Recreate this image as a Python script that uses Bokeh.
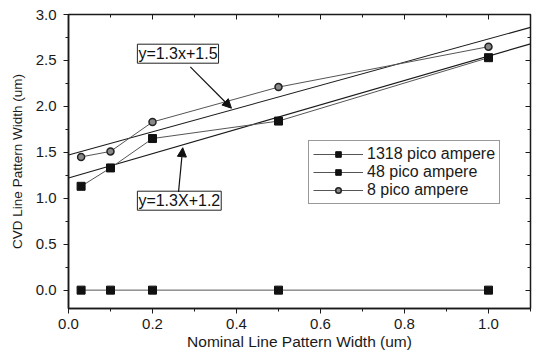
from bokeh.plotting import figure
from bokeh.models import (Range1d, LinearAxis, SingleIntervalTicker, Legend, LegendItem,
                          Label, Arrow, NormalHead, CustomJSTickFormatter, CustomLabelingPolicy)
from bokeh.embed import file_html
from bokeh.resources import INLINE

# ---- data ----
nominal = [0.03, 0.1, 0.2, 0.5, 1.0]
cvd_1318 = [0.0, 0.0, 0.0, 0.0, 0.0]
cvd_48 = [1.13, 1.33, 1.65, 1.84, 2.53]
cvd_8 = [1.45, 1.51, 1.83, 2.21, 2.65]

fit_upper_x = [0.0, 1.1]
fit_upper_y = [1.47, 2.86]
fit_lower_x = [0.0, 1.1]
fit_lower_y = [1.22, 2.68]

label_upper = "y=1.3x+1.5"
label_lower = "y=1.3X+1.2"
series_names = ["1318 pico ampere", "48 pico ampere", "8 pico ampere"]

FONT = "Liberation Sans"
INK = "#1a1a1a"

p = figure(width=539, height=357, output_backend="svg", toolbar_location=None,
           x_range=Range1d(0, 1.1), y_range=Range1d(-0.2, 3.0),
           min_border_left=68, min_border_right=9, min_border_top=14, min_border_bottom=49)
p.background_fill_color = "white"
p.border_fill_color = "white"
p.outline_line_color = INK
p.outline_line_width = 1.5
p.xgrid.visible = False
p.ygrid.visible = False

p.xaxis.ticker = SingleIntervalTicker(interval=0.2, num_minor_ticks=2)
p.yaxis.ticker = SingleIntervalTicker(interval=0.5, num_minor_ticks=2)
p.xaxis.formatter = CustomJSTickFormatter(code="return tick.toFixed(1);")
p.yaxis.formatter = CustomJSTickFormatter(code="return tick.toFixed(1);")

for ax in (p.xaxis[0], p.yaxis[0]):
    ax.axis_line_color = INK
    ax.axis_line_width = 1.5
    ax.major_tick_line_color = INK
    ax.minor_tick_line_color = INK
    ax.major_tick_out = 5
    ax.major_tick_in = 0
    ax.minor_tick_out = 3
    ax.minor_tick_in = 0
    ax.major_label_text_font = FONT
    ax.major_label_text_font_size = "15px"
    ax.major_label_text_color = INK
    ax.axis_label_text_font = FONT
    ax.axis_label_text_font_style = "normal"
    ax.axis_label_text_color = INK

p.xaxis.axis_label = "Nominal Line Pattern Width (um)"
p.yaxis.axis_label = "CVD Line Pattern Width (um)"
p.xaxis.axis_label_text_font_size = "15.5px"
p.yaxis.axis_label_text_font_size = "13.5px"
p.xaxis.major_label_standoff = 5
p.xaxis.axis_label_standoff = 1
p.yaxis.major_label_standoff = 7
p.yaxis.axis_label_standoff = 8

no_labels = CustomLabelingPolicy(code="return [];")
top = LinearAxis(ticker=SingleIntervalTicker(interval=0.2, num_minor_ticks=2),
                 major_label_policy=no_labels, major_label_text_font_size="1px",
                 major_tick_in=5, major_tick_out=0, minor_tick_in=3, minor_tick_out=0,
                 axis_line_color=None, major_label_standoff=0,
                 major_tick_line_color=INK, minor_tick_line_color=INK)
right = LinearAxis(ticker=SingleIntervalTicker(interval=0.5, num_minor_ticks=2),
                   major_label_policy=CustomLabelingPolicy(code="return [];"),
                   major_label_text_font_size="1px",
                   major_tick_in=5, major_tick_out=0, minor_tick_in=3, minor_tick_out=0,
                   axis_line_color=None, major_label_standoff=0,
                   major_tick_line_color=INK, minor_tick_line_color=INK)
p.add_layout(top, "above")
p.add_layout(right, "right")

# fit lines
p.line(fit_upper_x, fit_upper_y, line_color=INK, line_width=1.1)
p.line(fit_lower_x, fit_lower_y, line_color=INK, line_width=1.1)

# series
l1 = p.line(nominal, cvd_1318, line_color="#555555", line_width=1)
m1 = p.scatter(nominal, cvd_1318, marker="square", size=8, fill_color="#111111", line_color="#111111")
l2 = p.line(nominal, cvd_48, line_color="#555555", line_width=1)
m2 = p.scatter(nominal, cvd_48, marker="square", size=8, fill_color="#111111", line_color="#111111")
l3 = p.line(nominal, cvd_8, line_color="#555555", line_width=1)
m3 = p.scatter(nominal, cvd_8, marker="circle", size=7, fill_color="#888888", line_color="#222222", line_width=1.5)

legend = Legend(items=[LegendItem(label=series_names[0], renderers=[l1, m1]),
                       LegendItem(label=series_names[1], renderers=[l2, m2]),
                       LegendItem(label=series_names[2], renderers=[l3, m3])],
                location=(240, 104), label_text_font=FONT, label_text_font_size="16px",
                label_text_color=INK, border_line_color="#333333", border_line_width=1,
                glyph_width=50, glyph_height=14, spacing=0, padding=4, margin=0,
                label_standoff=4, label_height=15, background_fill_alpha=1)
p.add_layout(legend, "center")

# annotations
lab1 = Label(x=0.164, y=2.47, text=label_upper, text_font=FONT, text_font_size="16px",
             text_color="#111111", border_line_color="#222222", border_line_width=1,
             background_fill_color="white", padding=1)
lab2 = Label(x=0.164, y=0.87, text=label_lower, text_font=FONT, text_font_size="16px",
             text_color="#111111", border_line_color="#222222", border_line_width=1,
             background_fill_color="white", padding=1)
p.add_layout(lab1)
p.add_layout(lab2)

p.add_layout(Arrow(x_start=0.29, y_start=2.43, x_end=0.388, y_end=1.98,
                   line_color="#111111", line_width=1.2,
                   end=NormalHead(size=9, fill_color="#111111", line_color="#111111")))
p.add_layout(Arrow(x_start=0.262, y_start=1.07, x_end=0.272, y_end=1.55,
                   line_color="#111111", line_width=1.2,
                   end=NormalHead(size=9, fill_color="#111111", line_color="#111111")))

open("out.html", "w").write(file_html(p, INLINE))
